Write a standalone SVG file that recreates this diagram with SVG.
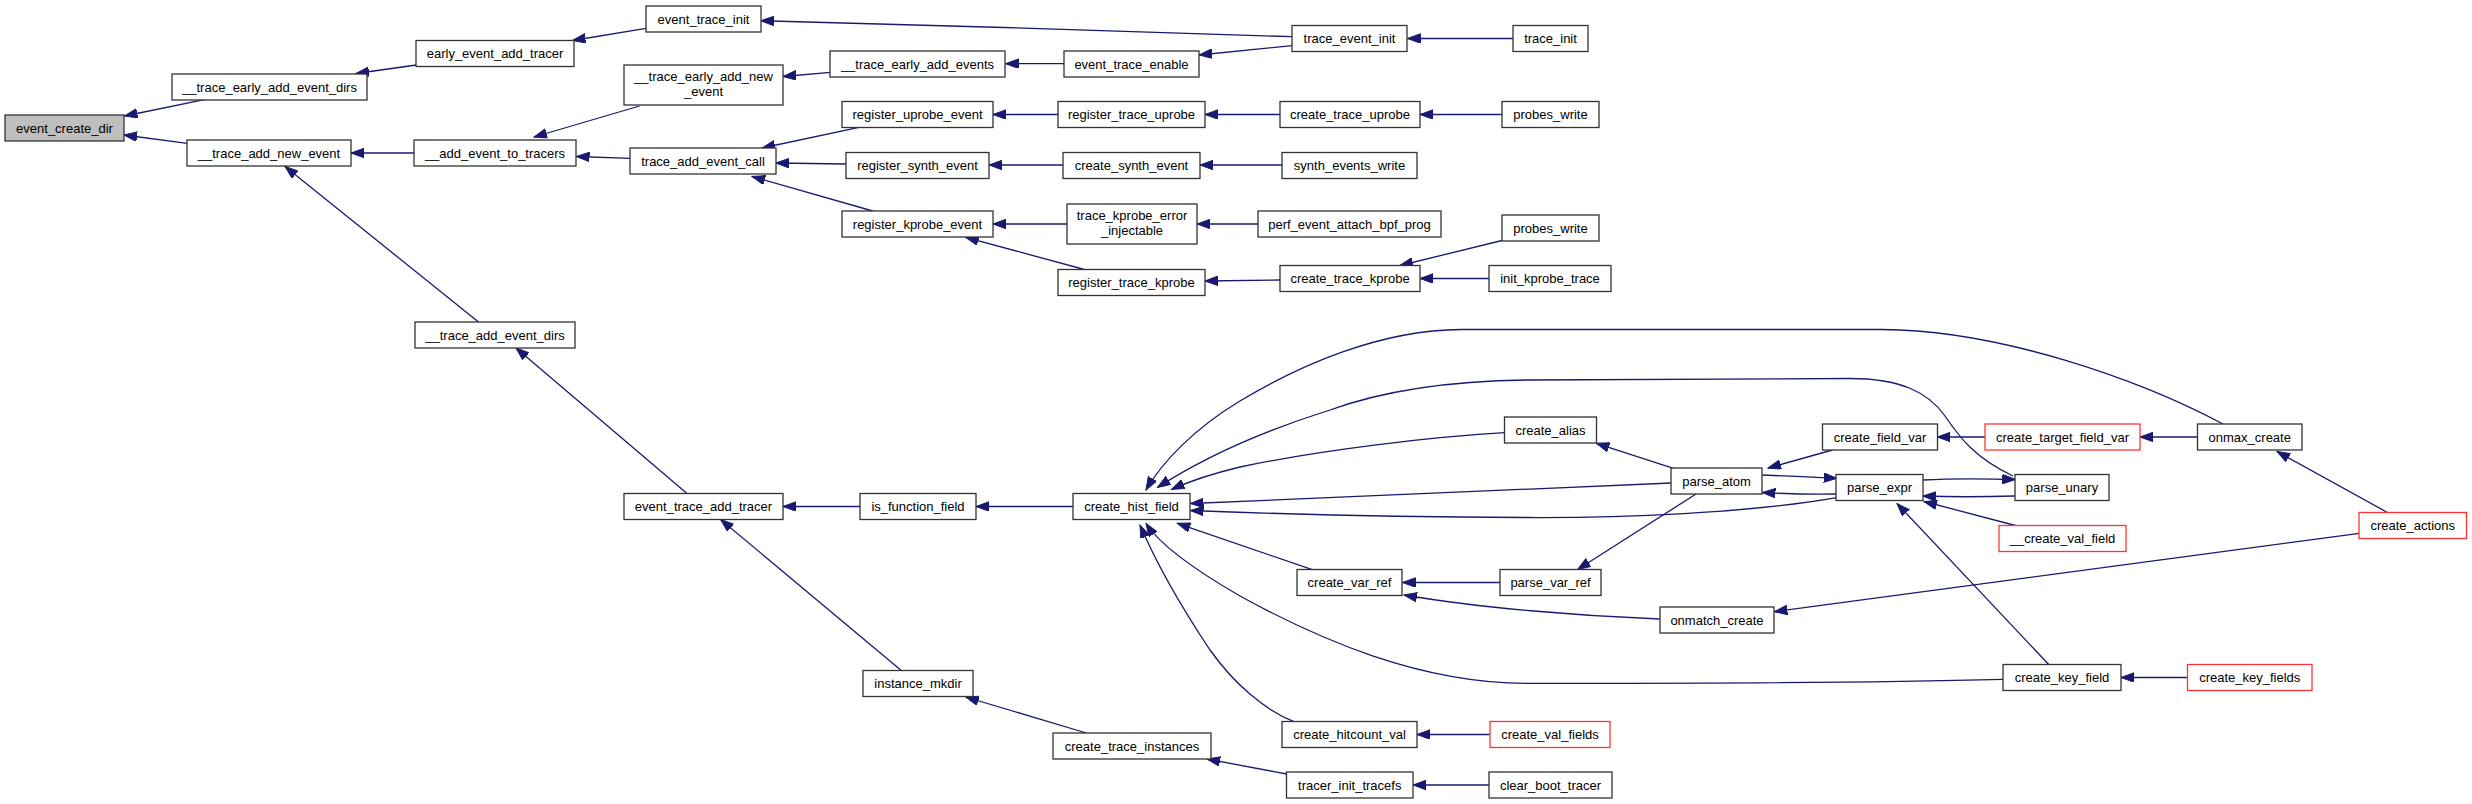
<svg xmlns="http://www.w3.org/2000/svg" width="2472" height="804" viewBox="0 0 2472 804">
<style>
.n rect{fill:#fff;stroke:#333;stroke-width:1.3}
.n.r rect{stroke:#f33}
.n.root rect{fill:#bfbfbf}
.n text{font-family:"Liberation Sans",Helvetica,Arial,sans-serif;font-size:13px;fill:#000;text-anchor:middle}
.e path{fill:none;stroke:#191970;stroke-width:1.3;marker-end:url(#ah)}
</style>
<defs>
<marker id="ah" markerUnits="userSpaceOnUse" markerWidth="14" markerHeight="10" refX="13" refY="4.75" orient="auto">
<path d="M0,0 L13,4.75 L0,9.5 z" fill="#191970" stroke="#191970" stroke-width="1"/>
</marker>
</defs>
<rect width="2472" height="804" fill="#fff"/>
<g id="edges" class="e">
<path d="M205.6,99.3 L124.5,116"/>
<path d="M187.4,143.3 L124,135"/>
<path d="M416.4,65 L356,73.5"/>
<path d="M646,28.3 L572.5,40.5"/>
<path d="M1292,36.7 C1200,33.5 900,24 761,20.7"/>
<path d="M414.4,153 L351,153"/>
<path d="M478.5,322 L285,166.5"/>
<path d="M639.5,106 L534,137"/>
<path d="M630.4,158.3 L576.5,156.5"/>
<path d="M830.5,72.3 L783,76.5"/>
<path d="M1064,63.7 L1005.5,63.7"/>
<path d="M1292,45.7 L1199,55"/>
<path d="M1513,38.5 L1407.5,38.5"/>
<path d="M859,127.3 L762,148"/>
<path d="M846.3,164 L776,163"/>
<path d="M872.8,211 L752,176.5"/>
<path d="M1058,114.5 L993,114.5"/>
<path d="M1280,114.5 L1205,114.5"/>
<path d="M1502,114.5 L1420,114.5"/>
<path d="M1063,165 L989,165"/>
<path d="M1282,165 L1200,165"/>
<path d="M1067,224 L993,224"/>
<path d="M1084.4,269.5 L965.7,237.3"/>
<path d="M1258,224 L1197,224"/>
<path d="M1280,280 L1205,281"/>
<path d="M1502,240.5 L1400,265.5"/>
<path d="M1489,278.5 L1420,278.5"/>
<path d="M687,493.5 L516,348"/>
<path d="M860,506.5 L783,506.5"/>
<path d="M901.3,670.5 L720.6,519.5"/>
<path d="M1073,506.5 L976,506.5"/>
<path d="M1086.4,733 L965.7,697"/>
<path d="M1286.5,774 L1207,759"/>
<path d="M1489,785 L1413,785"/>
<path d="M1490,734.5 L1417,734.5"/>
<path d="M2223,424 C2140,380 2000,330 1882,329.5 L1461,329.5 C1380,330 1300,365 1240,401 C1195,428 1162,462 1146,490"/>
<path d="M2013,476 C1975,458 1960,438 1945,416 C1928,392 1900,378.5 1850,378.5 L1526,380 C1440,381 1380,392 1330,410 C1260,432 1200,460 1157.5,487.5"/>
<path d="M1504.5,432.7 C1430,437 1320,450 1240,467 C1215,473 1190,481 1171.5,489.5"/>
<path d="M1671.4,483 L1190.5,503.5"/>
<path d="M1836.7,497.7 C1750,513 1620,518 1526,517.5 C1400,517 1280,514 1190.5,510.5"/>
<path d="M1312.2,569.7 L1177.3,523.3"/>
<path d="M2003,679.3 C1900,682 1700,683.5 1526,683.3 C1420,683 1320,640 1240,596 C1195,570 1160,545 1146,523.5"/>
<path d="M1293.9,721.7 C1265,710 1235,685 1210,650 C1180,605 1155,560 1140,525"/>
<path d="M1832.5,450 L1768,468"/>
<path d="M1762.4,475 C1790,476 1810,477 1836.7,478.3"/>
<path d="M1836.7,494 C1810,494.5 1790,494 1762.4,492.5"/>
<path d="M1673.5,468.3 L1596.3,443.3"/>
<path d="M1696,494 L1577.6,569.5"/>
<path d="M1500,582.5 L1402.5,582.5"/>
<path d="M1659.6,619 C1580,616 1480,608 1404,595"/>
<path d="M2359.3,533.3 L1774.3,611.7"/>
<path d="M2387.5,512.5 L2277,451.5"/>
<path d="M2197.5,437 L2140,437"/>
<path d="M1985,437 L1937.3,437"/>
<path d="M1923,480 C1950,478.5 1980,478.5 2015.4,479.5"/>
<path d="M2015.4,496 C1980,497 1950,497 1923,496"/>
<path d="M2015.4,525.5 L1924,501.5"/>
<path d="M2048.7,664.5 L1897,503.5"/>
<path d="M2187.5,677.5 L2121,677.5"/>
</g>
<g id="event_create_dir" class="n root"><rect x="5" y="115" width="119" height="26"/><text x="64.5" y="132.5">event_create_dir</text></g>
<g id="trace_early_add_event_dirs" class="n"><rect x="172" y="74" width="195" height="26"/><text x="269.5" y="91.5">__trace_early_add_event_dirs</text></g>
<g id="early_event_add_tracer" class="n"><rect x="416" y="40.5" width="158" height="26"/><text x="495" y="58">early_event_add_tracer</text></g>
<g id="trace_add_new_event" class="n"><rect x="187" y="140" width="164" height="26"/><text x="269" y="157.5">__trace_add_new_event</text></g>
<g id="add_event_to_tracers" class="n"><rect x="414" y="140" width="162" height="26"/><text x="495" y="157.5">__add_event_to_tracers</text></g>
<g id="trace_add_event_dirs" class="n"><rect x="415" y="322" width="160" height="26"/><text x="495" y="339.5">__trace_add_event_dirs</text></g>
<g id="event_trace_init" class="n"><rect x="646" y="6" width="115" height="26"/><text x="703.5" y="23.5">event_trace_init</text></g>
<g id="trace_early_add_new_event" class="n"><rect x="624" y="65" width="159" height="40"/><text x="703.5" y="81">__trace_early_add_new</text><text x="703.5" y="96">_event</text></g>
<g id="trace_add_event_call" class="n"><rect x="630" y="148" width="146" height="26"/><text x="703" y="165.5">trace_add_event_call</text></g>
<g id="trace_early_add_events" class="n"><rect x="830" y="51" width="175" height="26"/><text x="917.5" y="68.5">__trace_early_add_events</text></g>
<g id="event_trace_enable" class="n"><rect x="1064" y="51" width="135" height="26"/><text x="1131.5" y="68.5">event_trace_enable</text></g>
<g id="register_uprobe_event" class="n"><rect x="842" y="101.5" width="151" height="26"/><text x="917.5" y="119">register_uprobe_event</text></g>
<g id="register_trace_uprobe" class="n"><rect x="1058" y="101.5" width="147" height="26"/><text x="1131.5" y="119">register_trace_uprobe</text></g>
<g id="register_synth_event" class="n"><rect x="846" y="152.5" width="143" height="26"/><text x="917.5" y="170">register_synth_event</text></g>
<g id="create_synth_event" class="n"><rect x="1063" y="152.5" width="137" height="26"/><text x="1131.5" y="170">create_synth_event</text></g>
<g id="register_kprobe_event" class="n"><rect x="842" y="211" width="151" height="26"/><text x="917.5" y="228.5">register_kprobe_event</text></g>
<g id="trace_kprobe_error_injectable" class="n"><rect x="1067" y="204" width="130" height="40"/><text x="1132" y="220">trace_kprobe_error</text><text x="1132" y="235">_injectable</text></g>
<g id="register_trace_kprobe" class="n"><rect x="1058" y="269.5" width="147" height="26"/><text x="1131.5" y="287">register_trace_kprobe</text></g>
<g id="trace_event_init" class="n"><rect x="1292" y="25.5" width="115" height="26"/><text x="1349.5" y="43">trace_event_init</text></g>
<g id="trace_init" class="n"><rect x="1513" y="25.5" width="75" height="26"/><text x="1550.5" y="43">trace_init</text></g>
<g id="create_trace_uprobe" class="n"><rect x="1280" y="101.5" width="140" height="26"/><text x="1350" y="119">create_trace_uprobe</text></g>
<g id="probes_write_uprobe" class="n"><rect x="1502" y="101.5" width="97" height="26"/><text x="1550.5" y="119">probes_write</text></g>
<g id="synth_events_write" class="n"><rect x="1282" y="152.5" width="135" height="26"/><text x="1349.5" y="170">synth_events_write</text></g>
<g id="perf_event_attach_bpf_prog" class="n"><rect x="1258" y="211" width="183" height="26"/><text x="1349.5" y="228.5">perf_event_attach_bpf_prog</text></g>
<g id="probes_write_kprobe" class="n"><rect x="1502" y="215" width="97" height="26"/><text x="1550.5" y="232.5">probes_write</text></g>
<g id="create_trace_kprobe" class="n"><rect x="1280" y="265.5" width="140" height="26"/><text x="1350" y="283">create_trace_kprobe</text></g>
<g id="init_kprobe_trace" class="n"><rect x="1489" y="265.5" width="122" height="26"/><text x="1550" y="283">init_kprobe_trace</text></g>
<g id="event_trace_add_tracer" class="n"><rect x="624" y="493.5" width="159" height="26"/><text x="703.5" y="511">event_trace_add_tracer</text></g>
<g id="is_function_field" class="n"><rect x="860" y="493.5" width="116" height="26"/><text x="918" y="511">is_function_field</text></g>
<g id="create_hist_field" class="n"><rect x="1073" y="493.5" width="117" height="26"/><text x="1131.5" y="511">create_hist_field</text></g>
<g id="instance_mkdir" class="n"><rect x="863" y="670.5" width="110" height="26"/><text x="918" y="688">instance_mkdir</text></g>
<g id="create_trace_instances" class="n"><rect x="1053" y="733" width="158" height="26"/><text x="1132" y="750.5">create_trace_instances</text></g>
<g id="create_alias" class="n"><rect x="1504.5" y="417" width="92" height="26"/><text x="1550.5" y="434.5">create_alias</text></g>
<g id="parse_atom" class="n"><rect x="1671" y="468" width="91" height="26"/><text x="1716.5" y="485.5">parse_atom</text></g>
<g id="create_var_ref" class="n"><rect x="1297" y="569.5" width="105" height="26"/><text x="1349.5" y="587">create_var_ref</text></g>
<g id="parse_var_ref" class="n"><rect x="1500" y="569.5" width="101" height="26"/><text x="1550.5" y="587">parse_var_ref</text></g>
<g id="onmatch_create" class="n"><rect x="1660" y="607" width="114" height="26"/><text x="1717" y="624.5">onmatch_create</text></g>
<g id="create_hitcount_val" class="n"><rect x="1282" y="721.5" width="135" height="26"/><text x="1349.5" y="739">create_hitcount_val</text></g>
<g id="create_val_fields" class="n r"><rect x="1490" y="721.5" width="120" height="26"/><text x="1550" y="739">create_val_fields</text></g>
<g id="tracer_init_tracefs" class="n"><rect x="1286.5" y="772" width="126.5" height="26"/><text x="1349.75" y="789.5">tracer_init_tracefs</text></g>
<g id="clear_boot_tracer" class="n"><rect x="1489" y="772" width="123" height="26"/><text x="1550.5" y="789.5">clear_boot_tracer</text></g>
<g id="create_field_var" class="n"><rect x="1822.5" y="424" width="115" height="26"/><text x="1880" y="441.5">create_field_var</text></g>
<g id="create_target_field_var" class="n r"><rect x="1985" y="424" width="155" height="26"/><text x="2062.5" y="441.5">create_target_field_var</text></g>
<g id="onmax_create" class="n"><rect x="2197.5" y="424" width="104.5" height="26"/><text x="2249.75" y="441.5">onmax_create</text></g>
<g id="parse_expr" class="n"><rect x="1836" y="474.5" width="87" height="26"/><text x="1879.5" y="492">parse_expr</text></g>
<g id="parse_unary" class="n"><rect x="2015" y="474.5" width="94" height="26"/><text x="2062" y="492">parse_unary</text></g>
<g id="create_val_field" class="n r"><rect x="1999" y="525.5" width="127" height="26"/><text x="2062.5" y="543">__create_val_field</text></g>
<g id="create_actions" class="n r"><rect x="2359" y="512.5" width="107.5" height="26"/><text x="2412.75" y="530">create_actions</text></g>
<g id="create_key_field" class="n"><rect x="2003" y="664.5" width="118" height="26"/><text x="2062" y="682">create_key_field</text></g>
<g id="create_key_fields" class="n r"><rect x="2187.5" y="664.5" width="124.5" height="26"/><text x="2249.75" y="682">create_key_fields</text></g>
</svg>
